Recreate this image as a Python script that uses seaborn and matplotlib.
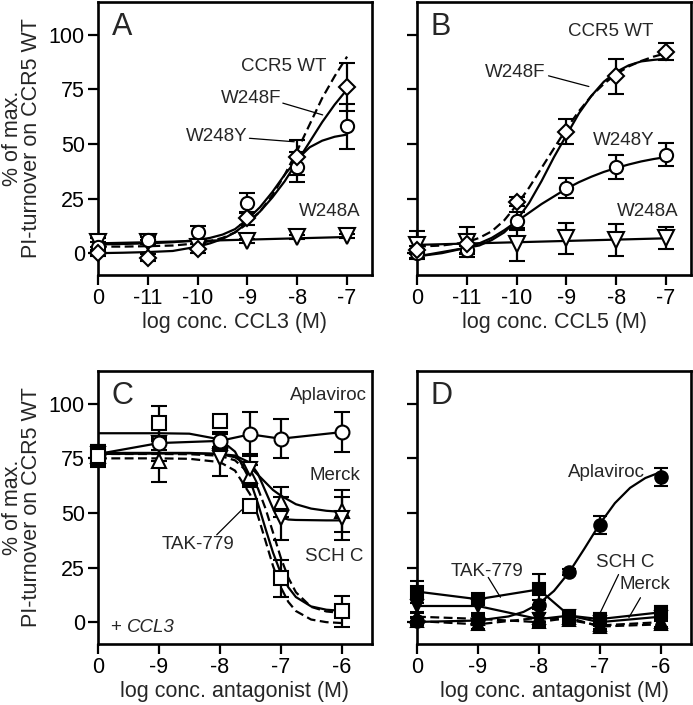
import matplotlib
matplotlib.use("Agg")
import matplotlib.pyplot as plt
import seaborn as sns
import pandas as pd

sns.set_theme(style="ticks")
plt.rcParams["font.family"] = ["Liberation Sans", "DejaVu Sans"]

# ---------------- data ----------------
# Panel A (CCL3 agonist)
A_ticks = ["0", "-11", "-10", "-9", "-8", "-7"]
A_pos = [0, 1, 2, 3, 4, 5]
A_F = [0, -2, 2, 16, 44, 76]
A_F_err = [1.5, 1.5, 2, 3, 8, 11]
A_Y = [3, 6, 9.5, 23, 39.5, 58]
A_Y_err = [2, 1.5, 3, 4.5, 7, 10.5]
A_A = [5, 5, 3, 5.5, 7.5, 8]
A_A_err = [2, 1, 1, 1, 1, 1]
A_grid = [0, 0.5, 1, 1.5, 2, 2.25, 2.5, 2.75, 3, 3.25, 3.5, 3.75, 4, 4.25, 4.5, 4.75, 5]
A_WT_fit = [3, 3, 3.2, 3.5, 4.5, 5.5, 7, 9.5, 13.5, 19, 26.5, 36, 47, 59, 71, 81, 90]
A_F_fit = [0, 0.2, 0.5, 1, 3, 4.5, 6.5, 9.5, 14, 19, 25.5, 33, 42, 51, 60, 68, 75]
A_Y_fit = [4, 4.2, 4.5, 5, 6, 7, 8.5, 11, 15.5, 21, 28, 36, 43, 48.5, 51.5, 53.3, 54.3]
A_A_fit = [4.5, 5, 5.6, 6.2, 6.8, 7.4]

# Panel B (CCL5 agonist)
B_ticks = ["0", "-11", "-10", "-9", "-8", "-7"]
B_pos = [0, 1, 2, 3, 4, 5]
B_WT = [1.5, 4, 23.5, 55.7, 81, 92.3]
B_WT_err = [2, 4, 2, 5.5, 8, 4]
B_Y = [0, 1.5, 14.7, 29.7, 39.6, 45]
B_Y_err = [2, 2, 4, 4.5, 5.5, 5.3]
B_A = [3.7, 5.2, 4, 6.8, 6, 6.8]
B_A_err = [6.5, 7, 7.5, 7, 7.5, 5]
B_grid = [0, 0.5, 1, 1.25, 1.5, 1.75, 2, 2.25, 2.5, 2.75, 3, 3.25, 3.5, 3.75, 4, 4.25, 4.5, 4.75, 5]
B_WT_fit = [3, 3.5, 5, 7, 10, 15, 22, 30, 39, 48, 57, 65, 72, 77.5, 82, 85.5, 88, 90, 91.5]
B_F_fit = [-1.5, 0.5, 2.5, 3.5, 6, 9.5, 15, 23, 33, 44, 54, 64, 72, 78.5, 83, 86, 87.8, 88.5, 89]
B_Y_fit = [-1.5, 0, 2.5, 4.5, 7, 10.5, 14.5, 18.5, 22.5, 26, 29.5, 32.5, 35, 37.2, 39, 40.6, 42, 43.1, 44]
B_A_fit = [3.8, 4.4, 5, 5.6, 6.2, 6.8]

# Panel C (antagonists + CCL3)
C_ticks = ["0", "-9", "-8", "-7", "-6"]
C_pos = [0, 1, 2, 2.5, 3, 4]
C_apla = [77, 82, 83, 86, 84, 87]
C_apla_err = [3, 3, 3, 10, 9, 9]
C_tak = [76, 91, 92, 53, 20, 5]
C_tak_err = [5, 8, 3, 2, 8.5, 7]
C_merck = [76, 74, 83, 67, 55, 51]
C_merck_err = [4, 10, 4, 5, 7, 9.5]
C_sch = [77, 82, 75, 70, 47.5, 47.5]
C_sch_err = [4, 8, 8, 7, 10, 10]
C_grid = [0, 1, 1.5, 2, 2.25, 2.5, 2.625, 2.75, 2.875, 3, 3.125, 3.25, 3.5, 3.75, 4]
C_tak_fit = [86.5, 86.5, 86.3, 83.7, 78.1, 64.8, 54.5, 42.9, 31.8, 22.6, 16, 11.5, 7.2, 5.7, 5.2]
C_merck_fit = [77, 77.2, 77.3, 77, 75.5, 71, 67.5, 64, 60.5, 58, 56, 54, 52, 51, 50.5]
C_sch_fit = [77.5, 77.5, 77.5, 77, 76.3, 73, 68, 60, 52, 48, 47, 46.8, 46.7, 46.6, 46.6]
C_dash1_fit = [75, 75, 74.8, 73.3, 69.4, 58.4, 48.8, 37.3, 25.7, 16.1, 9.3, 5.1, 1.2, 0, -0.4]
C_dash2_fit = [77, 77, 76.9, 76.2, 74.1, 67.7, 61.3, 52.1, 41, 29.7, 20.4, 13.7, 7, 4.9, 4.2]

# Panel D (antagonists alone)
D_ticks = ["0", "-9", "-8", "-7", "-6"]
D_pos = [0, 1, 2, 2.5, 3, 4]
D_apla = [0.5, 1.5, 8, 23, 44.5, 66.5]
D_apla_err = [1.5, 1.5, 2, 1.5, 4.3, 4.2]
D_tak = [14, 10.5, 15, 3, 1.4, 4.5]
D_tak_err = [5, 2, 7, 2, 3, 3]
D_sch = [7.4, 7.4, 1.4, 3, 0, 2.5]
D_sch_err = [3, 3, 3, 2, 3, 2]
D_merck = [2.5, 1.5, 0, 2, -2, -1]
D_merck_err = [2, 2, 2, 2, 2, 2]
D_other = [0.5, -1, 2, 1, -1.5, 0]
D_other_err = [2, 2, 2, 2, 2, 2]
D_grid = [0, 1, 1.5, 1.75, 2, 2.25, 2.5, 2.75, 3, 3.25, 3.5, 3.75, 4]
D_apla_fit = [0.1, 0.75, 2.6, 4.7, 8.4, 14.3, 22.9, 33.7, 44.9, 54.5, 61.5, 66, 68.7]

y_ticks = [0, 25, 50, 75, 100]
y_label = "% of max.\nPI-turnover on CCR5 WT"

# ---------------- style ----------------
LW = 1.6
DASH = (4, 2)
TICK_FS = 15.5
LAB_FS = 15.5
ANN_FS = 13.5
LET_FS = 22

W, H = 693, 705
fig = plt.figure(figsize=(W / 100, H / 100), dpi=100)
axA = fig.add_axes([98 / W, 1 - 275 / H, 274 / W, 273 / H])
axB = fig.add_axes([417 / W, 1 - 275 / H, 274 / W, 273 / H])
axC = fig.add_axes([98 / W, 1 - 644 / H, 274 / W, 273 / H])
axD = fig.add_axes([417 / W, 1 - 644 / H, 274 / W, 273 / H])


def curve(ax, x, y, dashed=False):
    df = pd.DataFrame({"x": x, "y": y})
    kw = dict(color="black", linewidth=LW, zorder=2, errorbar=None)
    if dashed:
        kw["linestyle"] = (0, DASH)
    sns.lineplot(data=df, x="x", y="y", ax=ax, **kw)


def points(ax, x, y, err, marker, ms, filled=False, cap=6):
    ax.errorbar(x, y, yerr=err, fmt=marker, ms=ms,
                mfc="black" if filled else "white", mec="black", mew=1.5,
                ecolor="black", elinewidth=1.6, capsize=cap, capthick=1.6,
                linestyle="none", clip_on=False, zorder=4)


def leader(ax, p0, p1):
    ax.plot([p0[0], p1[0]], [p0[1], p1[1]], color="black", lw=0.9, zorder=5)


def setup(ax, ticks, xmax, letter, xlabel, ylab=True):
    ax.set_xlim(0, xmax)
    ax.set_ylim(-10, 115)
    ax.set_xticks(range(len(ticks)))
    ax.set_xticklabels(ticks)
    ax.set_yticks(y_ticks)
    if ylab:
        ax.set_yticklabels([str(v) for v in y_ticks])
        ax.set_ylabel(y_label, fontsize=LAB_FS, linespacing=0.85)
        ax.yaxis.set_label_coords(-0.205, 0.5)
    else:
        ax.set_yticklabels([])
        ax.set_ylabel("")
    ax.set_xlabel(xlabel, fontsize=LAB_FS, labelpad=2)
    ax.tick_params(axis="both", direction="out", length=7, width=1.6,
                   labelsize=TICK_FS, pad=2.5, color="black", labelcolor="black")
    for s in ax.spines.values():
        s.set_linewidth(1.9)
        s.set_color("black")
        s.set_visible(True)
    ax.text(0.05, 0.88, letter, transform=ax.transAxes, fontsize=LET_FS,
            ha="left", va="baseline")


# ---------- Panel A ----------
ax = axA
curve(ax, A_grid, A_WT_fit, dashed=True)
curve(ax, A_grid, A_F_fit)
curve(ax, A_grid, A_Y_fit)
curve(ax, A_pos, A_A_fit)
points(ax, A_pos, A_A, A_A_err, "v", 11)
points(ax, A_pos, A_Y, A_Y_err, "o", 9.5)
points(ax, A_pos, A_F, A_F_err, "D", 8.5)
setup(ax, A_ticks, 5.5, "A", "log conc. CCL3 (M)")
ax.text(4.58, 85.3, "CCR5 WT", fontsize=ANN_FS, ha="right", va="center")
ax.text(3.68, 71, "W248F", fontsize=ANN_FS, ha="right", va="center")
ax.text(3.0, 53.2, "W248Y", fontsize=ANN_FS, ha="right", va="center")
ax.text(4.04, 19, "W248A", fontsize=ANN_FS, ha="left", va="center")
leader(ax, (3.71, 68.7), (4.51, 63.3))
leader(ax, (3.04, 52.6), (3.94, 51))

# ---------- Panel B ----------
ax = axB
curve(ax, B_grid, B_WT_fit, dashed=True)
curve(ax, B_grid, B_F_fit)
curve(ax, B_grid, B_Y_fit)
curve(ax, B_pos, B_A_fit)
points(ax, B_pos, B_A, B_A_err, "v", 11)
points(ax, B_pos, B_Y, B_Y_err, "o", 9.5)
points(ax, B_pos, B_WT, B_WT_err, "D", 8.5)
setup(ax, B_ticks, 5.5, "B", "log conc. CCL5 (M)", ylab=False)
ax.text(3.88, 101.5, "CCR5 WT", fontsize=ANN_FS, ha="center", va="center")
ax.text(2.57, 82.5, "W248F", fontsize=ANN_FS, ha="right", va="center")
ax.text(4.15, 51.8, "W248Y", fontsize=ANN_FS, ha="center", va="center")
ax.text(4.64, 19, "W248A", fontsize=ANN_FS, ha="center", va="center")
leader(ax, (2.64, 81.2), (3.45, 76.3))

# ---------- Panel C ----------
ax = axC
curve(ax, C_grid, C_dash1_fit, dashed=True)
curve(ax, C_grid, C_dash2_fit, dashed=True)
curve(ax, C_grid, C_tak_fit)
curve(ax, C_grid, C_merck_fit)
curve(ax, C_grid, C_sch_fit)
curve(ax, C_pos, C_apla)
points(ax, C_pos, C_merck, C_merck_err, "^", 10)
points(ax, C_pos, C_sch, C_sch_err, "v", 10)
points(ax, C_pos, C_apla, C_apla_err, "o", 10)
points(ax, C_pos, C_tak, C_tak_err, "s", 10.5)
setup(ax, C_ticks, 4.5, "C", "log conc. antagonist (M)")
ax.text(3.78, 103.6, "Aplaviroc", fontsize=ANN_FS, ha="center", va="center")
ax.text(3.89, 67.3, "Merck", fontsize=ANN_FS, ha="center", va="center")
ax.text(3.88, 30, "SCH C", fontsize=ANN_FS, ha="center", va="center")
ax.text(1.65, 35.5, "TAK-779", fontsize=ANN_FS, ha="center", va="center")
ax.text(0.2, -2.4, "+", fontsize=ANN_FS, ha="left", va="center")
ax.text(0.48, -2.4, "CCL3", fontsize=ANN_FS, ha="left", va="center", style="italic")
leader(ax, (1.95, 40), (2.36, 51.4))

# ---------- Panel D ----------
ax = axD
curve(ax, D_grid, D_apla_fit)
curve(ax, D_pos, D_tak)
curve(ax, D_pos, D_sch)
curve(ax, D_pos, D_merck, dashed=True)
curve(ax, D_pos, D_other, dashed=True)
points(ax, D_pos, D_other, D_other_err, "^", 8, filled=True, cap=5)
points(ax, D_pos, D_merck, D_merck_err, "^", 8.5, filled=True, cap=5)
points(ax, D_pos, D_sch, D_sch_err, "v", 8.5, filled=True, cap=5)
points(ax, D_pos, D_tak, D_tak_err, "s", 8, filled=True, cap=5)
points(ax, D_pos, D_apla, D_apla_err, "o", 9, filled=True, cap=5)
setup(ax, D_ticks, 4.5, "D", "log conc. antagonist (M)", ylab=False)
ax.text(3.75, 68.6, "Aplaviroc", fontsize=ANN_FS, ha="right", va="center")
ax.text(3.42, 27.3, "SCH C", fontsize=ANN_FS, ha="center", va="center")
ax.text(3.75, 17.3, "Merck", fontsize=ANN_FS, ha="center", va="center")
ax.text(1.15, 23.2, "TAK-779", fontsize=ANN_FS, ha="center", va="center")
leader(ax, (1.17, 20.5), (1.37, 11.4))
leader(ax, (3.31, 21.8), (3.01, 4.4))
leader(ax, (3.67, 11.2), (3.48, 2.1))

fig.savefig("out.png", dpi=100, facecolor="white")
